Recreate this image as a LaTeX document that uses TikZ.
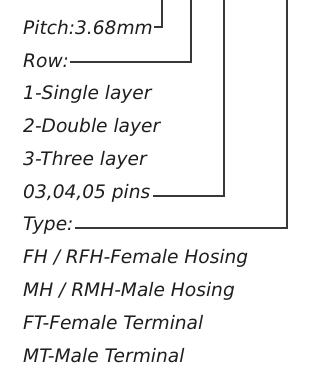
\documentclass[tikz,border=0pt]{standalone}
\usepackage{fontspec}
\setmainfont{DejaVu Sans}
\definecolor{txt}{HTML}{1E1E1E}
\definecolor{ln}{HTML}{383838}
\begin{document}
\begin{tikzpicture}[x=1pt,y=-1pt,
  lbl/.style={anchor=base west,inner sep=0pt,text=txt,font=\fontsize{18.6}{18.6}\selectfont\itshape},
  lead/.style={draw=ln,line width=1.8pt}]
\useasboundingbox (0,0) rectangle (320,370);
\node[lbl] (pitch) at (23,34) {Pitch:3.68mm};
\node[lbl] (row) at (23,67) {Row:};
\node[lbl] (l1) at (23,99) {1-Single layer};
\node[lbl] (l2) at (23,132) {2-Double layer};
\node[lbl] (l3) at (23,165) {3-Three layer};
\node[lbl] (pins) at (23,198) {03,04,05 pins};
\node[lbl] (type) at (23,230) {Type:};
\node[lbl] (t1) at (23,263) {FH / RFH-Female Hosing};
\node[lbl] (t2) at (23,296) {MH / RMH-Male Hosing};
\node[lbl] (t3) at (23,329) {FT-Female Terminal};
\node[lbl] (t4) at (23,362) {MT-Male Terminal};
\coordinate (top1) at (162,-2);
\coordinate (top2) at (191,-2);
\coordinate (top3) at (224,-2);
\coordinate (top4) at (287,-2);
\draw[lead] ([shift={(1,-7)}]pitch.base east) -| (top1);
\draw[lead] ([shift={(1,-5)}]row.base east) -| (top2);
\draw[lead] ([shift={(2,-2)}]pins.base east) -| (top3);
\draw[lead] ([shift={(1,-2)}]type.base east) -| (top4);
\end{tikzpicture}
\end{document}
